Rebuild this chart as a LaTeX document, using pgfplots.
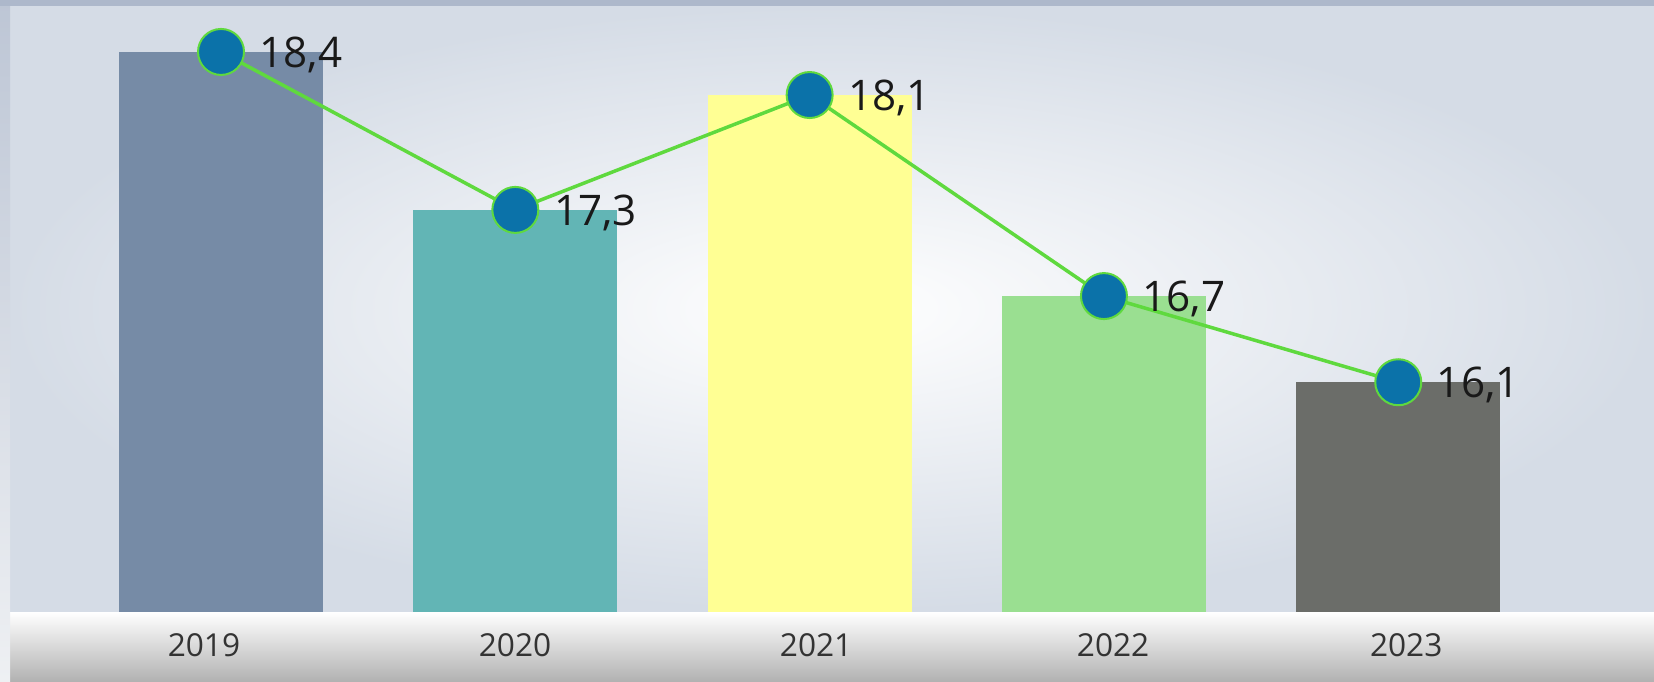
\documentclass[border=0pt]{standalone}
\usepackage{pgfplots}
\pgfplotsset{compat=1.18}
\usepackage{fontspec}
\setmainfont{Open Sans}
\usetikzlibrary{shadings}

\definecolor{bgedge}{HTML}{D5DCE6}
\definecolor{topstrip}{HTML}{ADB8CB}
\definecolor{leftstrip}{HTML}{EEF0F3}
\definecolor{bandgray}{HTML}{B2B2B2}
\definecolor{c19}{HTML}{768BA6}
\definecolor{c20}{HTML}{62B5B5}
\definecolor{c21}{HTML}{FFFF94}
\definecolor{c22}{HTML}{9ADF91}
\definecolor{c23}{HTML}{6B6D69}
\definecolor{linegreen}{HTML}{5FD93E}
\definecolor{markblue}{HTML}{0B72A9}
\definecolor{ticktext}{HTML}{333333}

\pgfplotsset{
  onebar/.style={ybar, bar width=0.693, bar shift=0pt, draw=none, fill=#1},
}

\begin{document}
\begin{tikzpicture}
\begin{axis}[
  set layers,
  scale only axis,
  width=16.44cm, height=6.06cm,
  xmin=-0.717, xmax=4.869,
  ymin=14.5, ymax=18.72,
  axis line style={draw=none},
  axis background/.style={inner color=white, outer color=bgedge},
  % year labels sit slightly off the bar centres in the original
  xtick={-0.058,0.999,2.022,3.031,4.027},
  xticklabels={2019,2020,2021,2022,2023},
  ytick=\empty,
  major tick length=0pt,
  xticklabel style={font=\fontsize{9}{10}\selectfont, text=ticktext, anchor=center, yshift=-3.3mm},
]
\begin{pgfonlayer}{axis background}
  % bottom band, left strip, top strip
  \fill[top color=white, bottom color=bandgray]
    (rel axis cs:0,0) rectangle ([yshift=-6.9mm]rel axis cs:1,0);
  \fill[top color=topstrip!80, bottom color=leftstrip]
    ([xshift=-1mm]rel axis cs:0,1) rectangle ([yshift=-6.9mm]rel axis cs:0,0);
  \fill[topstrip]
    ([xshift=-1mm]rel axis cs:0,1) rectangle ([yshift=0.6mm]rel axis cs:1,1);
\end{pgfonlayer}

\addplot[onebar=c19] coordinates {(0,18.4)};
\addplot[onebar=c20] coordinates {(1,17.3)};
\addplot[onebar=c21] coordinates {(2,18.1)};
\addplot[onebar=c22] coordinates {(3,16.7)};
\addplot[onebar=c23] coordinates {(4,16.1)};

\addplot[
  color=linegreen, line width=0.35mm,
  mark=*, mark size=2.3mm,
  mark options={fill=markblue, draw=linegreen, line width=0.2mm},
  point meta=y,
  nodes near coords,
  every node near coord/.append style={anchor=west, xshift=2.6mm, yshift=-0.3mm, text=black!90,
    font=\fontsize{12}{13}\selectfont,
    /pgf/number format/.cd, fixed, precision=1, fixed zerofill, use comma, assume math mode=true},
] coordinates {(0,18.4) (1,17.3) (2,18.1) (3,16.7) (4,16.1)};
\end{axis}
% fix the picture's extent to include the strips drawn on the background layer
\path ([xshift=-1mm,yshift=-6.9mm]current axis.south west)
  rectangle ([yshift=0.6mm]current axis.north east);
\end{tikzpicture}
\end{document}
